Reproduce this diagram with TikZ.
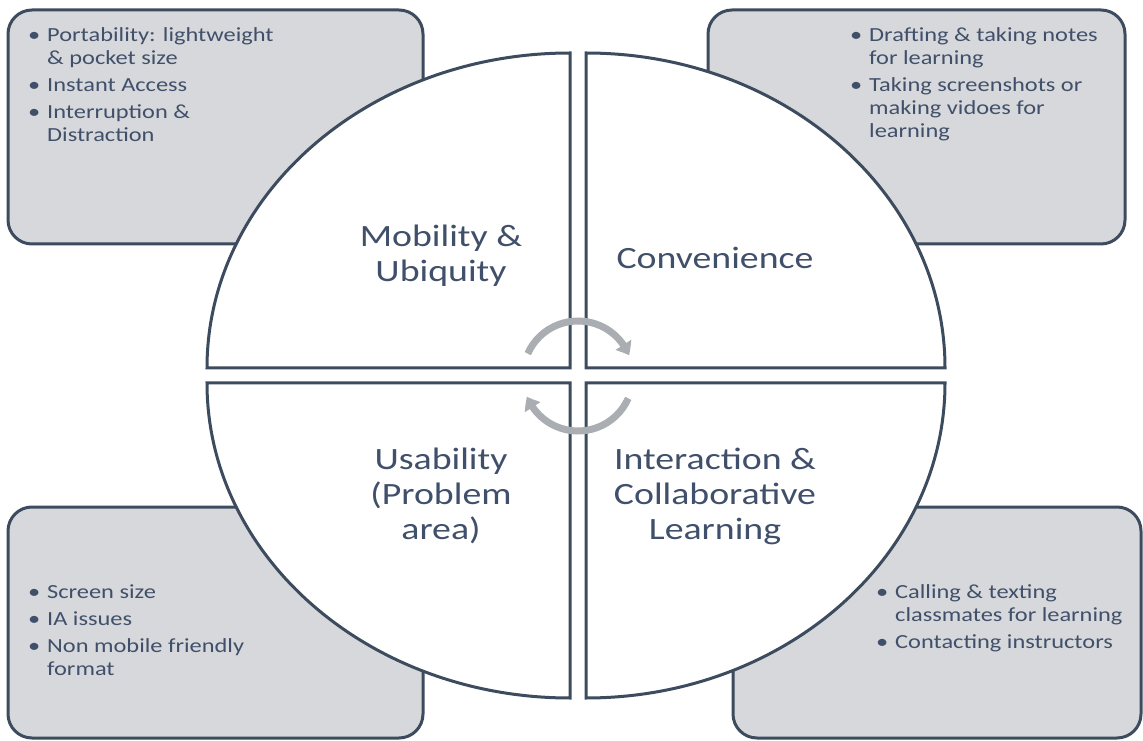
\documentclass[tikz,border=0pt]{standalone}
\usepackage{fontspec}
\setmainfont[FakeStretch=1.22]{Carlito}
\usetikzlibrary{arrows.meta,bending}
\definecolor{edge}{HTML}{3D4B5E}
\definecolor{panel}{HTML}{D6D8DB}
\definecolor{ink}{HTML}{41506A}
\definecolor{cyclegray}{HTML}{AAADB2}
\newcommand{\blt}{\textbullet}
\begin{document}
\begin{tikzpicture}[x=1pt,y=1pt,
  panelbox/.style={draw=edge, fill=panel, line width=3pt, rounded corners=24pt},
  quad/.style={draw=edge, fill=white, line width=3pt},
  title/.style={text=ink, align=center, inner sep=0pt, font=\fontsize{31}{35}\selectfont},
  items/.style={text=ink, inner sep=0pt, anchor=base west, font=\fontsize{20}{23}\selectfont},
  cyc/.style={draw=cyclegray, line width=7pt, -{Triangle[width=18pt,length=12pt,bend]}}
]
\useasboundingbox (0,0) rectangle (1143,740);

% grey corner panels
\draw[panelbox] (8,496) rectangle (423,730);
\draw[panelbox] (708,496) rectangle (1125,730);
\draw[panelbox] (8,2) rectangle (423,233);
\draw[panelbox] (733,2) rectangle (1141,233);

% four quarter-ellipse segments
\draw[quad] (570,372) -- (570,687) arc[start angle=90, end angle=180, x radius=363, y radius=315] -- cycle;
\draw[quad] (586,372) -- (586,687) arc[start angle=90, end angle=0, x radius=359, y radius=315] -- cycle;
\draw[quad] (570,357) -- (570,42) arc[start angle=270, end angle=180, x radius=363, y radius=315] -- cycle;
\draw[quad] (586,357) -- (586,42) arc[start angle=270, end angle=360, x radius=359, y radius=315] -- cycle;

% segment titles
\node[title] (mob) at (441,484) {Mobility \&\\Ubiquity};
\node[title] (conv) at (715,482) {Convenience};
\node[title] (usa) at (441,244) {Usability\\(Problem\\area)};
\node[title] (inter) at (715,244) {Interaction \&\\Collaborative\\Learning};

% bullet lists
\node[items] (mobList) at (28,698) {\begin{tabular}[t]{@{}p{19pt}@{}l@{}}
\blt & Portability: lightweight\\
     & \& pocket size\\[4pt]
\blt & Instant Access\\[4pt]
\blt & Interruption \&\\
     & Distraction
\end{tabular}};
\node[items] (convList) at (850,698) {\begin{tabular}[t]{@{}p{19pt}@{}l@{}}
\blt & Drafting \& taking notes\\
     & for learning\\[4pt]
\blt & Taking screenshots or\\
     & making vidoes for\\
     & learning
\end{tabular}};
\node[items] (usaList) at (28,142) {\begin{tabular}[t]{@{}p{19pt}@{}l@{}}
\blt & Screen size\\[4pt]
\blt & IA issues\\[4pt]
\blt & Non mobile friendly\\
     & format
\end{tabular}};
\node[items] (interList) at (876,142) {\begin{tabular}[t]{@{}p{19pt}@{}l@{}}
\blt & Calling \& texting\\
     & classmates for learning\\[4pt]
\blt & Contacting instructors
\end{tabular}};

% cycle arrows in the centre
\coordinate (hub) at (578,364);
\draw[cyc] (hub) ++(156:55) arc[start angle=156, end angle=22, radius=55];
\draw[cyc] (hub) ++(-24:55) arc[start angle=-24, end angle=-158, radius=55];
\end{tikzpicture}
\end{document}
